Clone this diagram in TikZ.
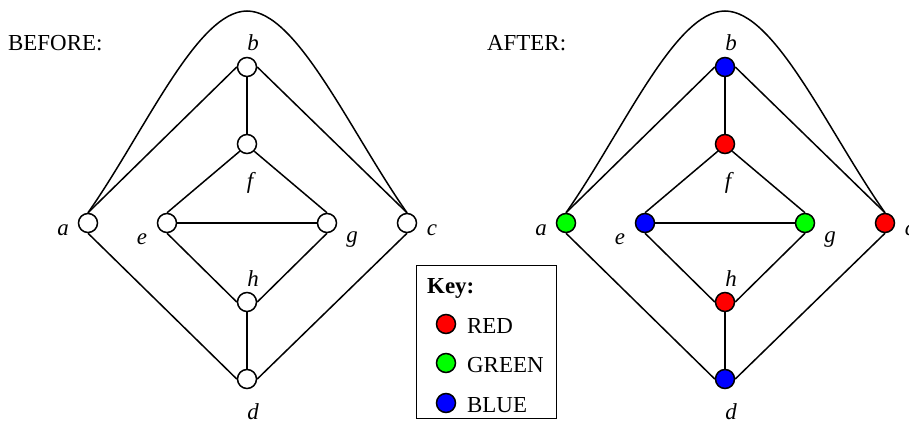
\documentclass[tikz,border=0pt]{standalone}
\usepackage{fontspec}
\setmainfont{Liberation Serif}
\usetikzlibrary{calc, positioning}

\begin{document}
\begin{tikzpicture}[x=1bp, y=1bp,
    every node/.style={font=\fontsize{23}{27}\selectfont, inner sep=0pt},
    vtx/.style={circle, draw, line width=1.5bp, minimum size=19bp, fill=white},
    lbl/.style={font=\fontsize{23}{27}\selectfont\itshape},
    edge/.style={line width=1.5bp}]
  \useasboundingbox (0,0) rectangle (909,423);
  % titles
  \node[anchor=base west] (before) at (8,373) {BEFORE:};
  \node[anchor=base west] (after) at (487,373) {AFTER:};
  % vertices, uncoloured graph
  \foreach \n/\x/\y in {a/88/200, b/247/356, c/407/200, d/247/44,
                        e/167/200, f/247/279, g/327/200, h/247/121}
    \node[vtx] (L\n) at (\x,\y) {};
  % vertices, coloured graph
  \foreach \n/\x/\y/\col in {a/566/200/green, b/725/356/blue, c/885/200/red, d/725/44/blue,
                             e/645/200/blue, f/725/279/red, g/805/200/green, h/725/121/red}
    \node[vtx, fill=\col] (R\n) at (\x,\y) {};
  \coordinate (Ltop) at (247,412);
  \coordinate (Rtop) at (725,412);
  % edges
  \foreach \p in {L, R} {
    \foreach \u/\v in {a.north/b.west, a.south/d.west, c.north/b.east, c.south/d.east,
                       b/f, h/d, f.south west/e.north, f.south east/g.north,
                       e/g, e.south/h.west, g.south/h.east}
      \draw[edge] (\p\u) -- (\p\v);
    \draw[edge] (\p a.north) .. controls +(55:100) and +(-50,0) .. (\p top)
                .. controls +(50,0) and +(125:100) .. (\p c.north);
  }
  % vertex labels
  \foreach \p/\dx in {L/0, R/478}
    \foreach \n/\x/\y in {a/63/193, b/253/380, c/432/193, d/253/11,
                          e/142/184, f/250/240, g/352/183, h/253/144}
      \node[lbl] (\p lbl\n) at (\x+\dx,\y) {\n};
  % key
  \node[draw, line width=0.8bp, minimum width=140bp, minimum height=153bp] (key) at (486,81.5) {};
  \node[anchor=base west, font=\fontsize{23}{27}\selectfont\bfseries] (keytitle) at (427,130) {Key:};
  \foreach \c/\t/\y in {red/RED/99, green/GREEN/60, blue/BLUE/20} {
    \node[vtx, fill=\c] (key\t) at (446,\y) {};
    \node[anchor=base west] (keytext\t) at (467,\y-9) {\t};
  }
\end{tikzpicture}
\end{document}
